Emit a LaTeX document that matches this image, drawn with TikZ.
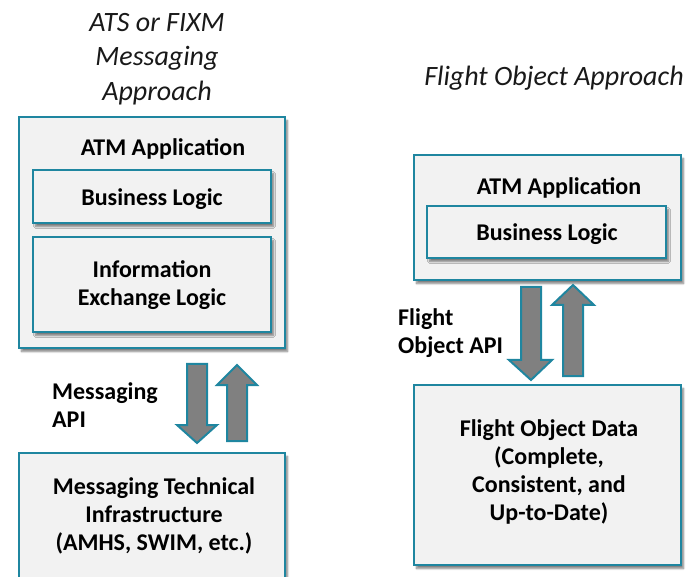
\documentclass[tikz,border=0pt]{standalone}
\usepackage{fontspec}
\setmainfont{Carlito}
\usetikzlibrary{shadows.blur}
\definecolor{edge}{RGB}{31,134,160}
\definecolor{boxfill}{RGB}{242,242,242}
\definecolor{arrowfill}{RGB}{128,128,128}
\tikzset{
  panel/.style={draw=edge, line width=2pt, fill=boxfill, inner sep=0pt,
    blur shadow={shadow xshift=2.5pt, shadow yshift=-3.5pt, shadow blur steps=6, shadow opacity=50}},
  boxtext/.style={font=\fontsize{24}{28}\selectfont\bfseries, align=center, inner sep=0pt},
  labeltext/.style={font=\fontsize{24}{28}\selectfont\bfseries, align=left, inner sep=0pt, anchor=west},
  titletext/.style={font=\fontsize{28}{34.5}\selectfont\itshape, align=center, inner sep=0pt, text=black!90},
  flowarrow/.style={draw=edge, line width=2pt, fill=arrowfill, line join=miter}
}
\begin{document}
\begin{tikzpicture}[x=1pt, y=-1pt]
\useasboundingbox (0,0) rectangle (699,577);

% column titles
\node[titletext] (tleft) at (157,59) {ATS or FIXM\\Messaging\\Approach};
\node[titletext] (tright) at (554,78) {Flight Object Approach};

% left column: messaging approach
\draw[panel] (19,117) rectangle (285,348);
\node[boxtext] (appL) at (163,149) {ATM Application};
\draw[panel] (33,170) rectangle (271,223);
\node[boxtext] (blL) at (152,199) {Business Logic};
\draw[panel] (33,237) rectangle (271,332);
\node[boxtext] (ielL) at (152,285) {Information\\Exchange Logic};
\draw[panel] (19,453) rectangle (285,578);
\node[boxtext] (mti) at (154,516) {Messaging Technical\\Infrastructure\\(AMHS, SWIM, etc.)};
\node[labeltext] (mapi) at (52,405) {Messaging\\API};

% left arrows (down, up)
\draw[flowarrow] (187,364) -- (207,364) -- (207,425) -- (217,425) -- (197,443)
  -- (177,425) -- (187,425) -- cycle;
\draw[flowarrow] (227,441) -- (247,441) -- (247,385) -- (257,385) -- (237,365)
  -- (217,385) -- (227,385) -- cycle;

% right column: flight object approach
\draw[panel] (414,155) rectangle (681,280);
\node[boxtext] (appR) at (559,188) {ATM Application};
\draw[panel] (427,206) rectangle (666,258);
\node[boxtext] (blR) at (547,234) {Business Logic};
\draw[panel] (414,385) rectangle (681,565);
\node[boxtext] (fod) at (549,472) {Flight Object Data\\(Complete,\\Consistent, and\\Up-to-Date)};
\node[labeltext] (foapi) at (398,333) {Flight\\Object API};

% right arrows (down, up)
\draw[flowarrow] (521,287) -- (541,287) -- (541,360) -- (552,360) -- (531,380)
  -- (509,360) -- (521,360) -- cycle;
\draw[flowarrow] (563,376) -- (583,376) -- (583,305) -- (594,305) -- (573,285)
  -- (552,305) -- (563,305) -- cycle;
\end{tikzpicture}
\end{document}
